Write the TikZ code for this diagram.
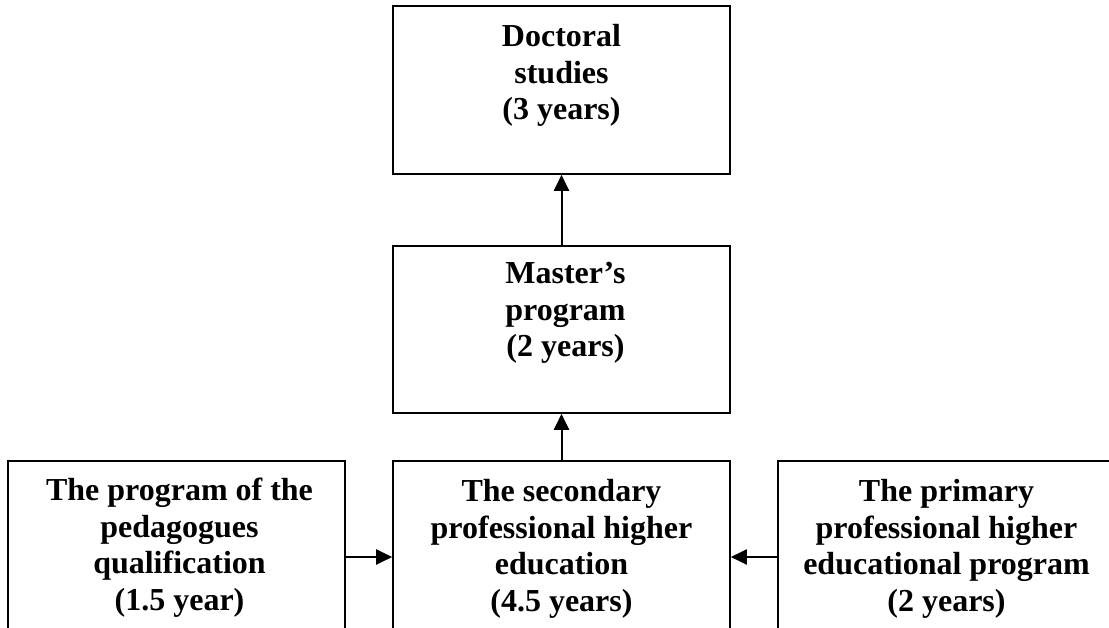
\documentclass[tikz,border=0pt]{standalone}
\usepackage{fontspec}
\setmainfont{Liberation Serif}
\usetikzlibrary{arrows.meta}

\begin{document}
\begin{tikzpicture}[
  box/.style={rectangle, draw=black, line width=1.6pt, minimum width=337pt, inner sep=0pt},
  txt/.style={anchor=north, align=center, inner sep=0pt, font=\fontsize{32pt}{36.5pt}\selectfont\bfseries},
  arr/.style={line width=2pt, -{Triangle[length=16pt, width=15pt]}}]
\useasboundingbox (0pt, 0pt) rectangle (1109pt, -628pt);
\clip (0pt, 0pt) rectangle (1109pt, -628pt);
% boxes
\node (doc) [box, minimum height=168pt] at (561.5pt, -90pt) {};
\node (mas) [box, minimum height=167pt] at (561.5pt, -329.5pt) {};
\node (sec) [box, minimum height=192pt] at (561.5pt, -557pt) {};
\node (ped) [box, minimum height=192pt] at (176.5pt, -557pt) {};
\node (pri) [box, minimum height=192pt] at (946.5pt, -557pt) {};
% texts
\node (doct) [txt] at ([yshift=-19pt]doc.north) {Doctoral\\studies\\(3 years)};
\node (mast) [txt] at ([xshift=4pt, yshift=-17pt]mas.north) {Master’s\\program\\(2 years)};
\node (sect) [txt] at ([yshift=-19pt]sec.north) {The secondary\\professional higher\\education\\(4.5 years)};
\node (pedt) [txt] at ([xshift=3pt, yshift=-18pt]ped.north) {The program of the\\pedagogues\\qualification\\(1.5 year)};
\node (prit) [txt] at ([yshift=-19pt]pri.north) {The primary\\professional higher\\educational program\\(2 years)};
% arrows
\draw [arr] (mas) to (doc);
\draw [arr] (sec) to (mas);
\draw [arr] (ped) to (sec);
\draw [arr] (pri) to (sec);
\end{tikzpicture}
\end{document}
